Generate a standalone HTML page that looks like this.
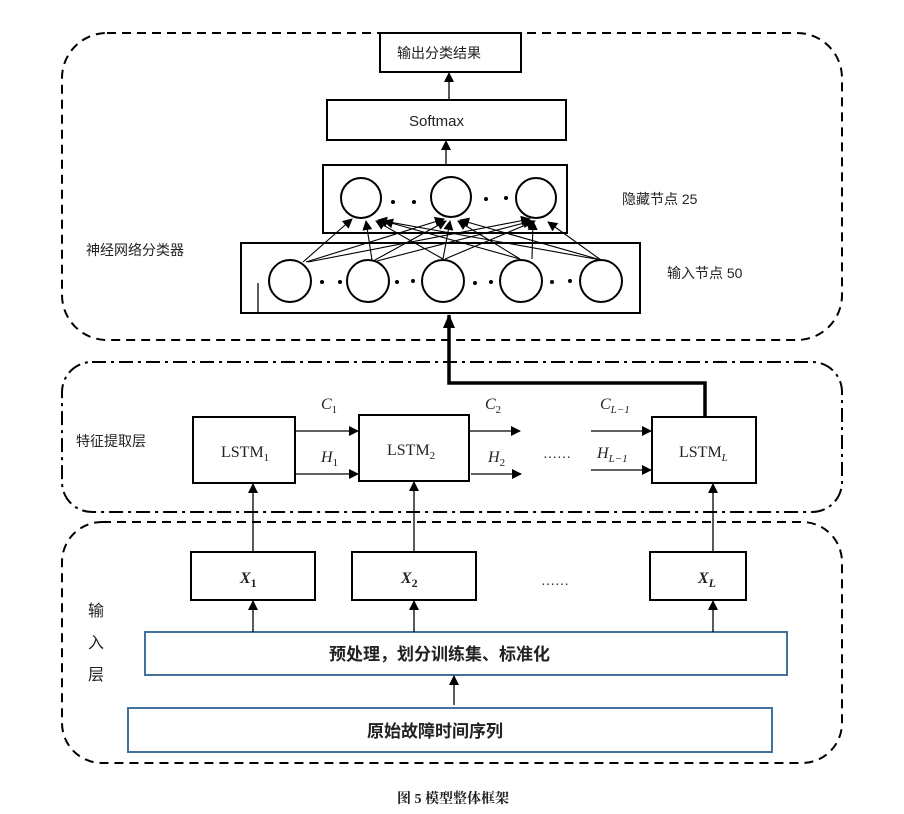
<!DOCTYPE html>
<html><head><meta charset="utf-8"><style>
html,body{margin:0;padding:0;background:#fff;}
svg{display:block;}
text{font-family:"Liberation Sans","Noto Sans CJK SC",sans-serif;fill:#222;}
.s{font-family:"Liberation Serif","Noto Serif CJK SC",serif;}
</style></head><body>
<svg width="904" height="814" viewBox="0 0 904 814" xmlns="http://www.w3.org/2000/svg">
<defs>
<marker id="a" markerWidth="10" markerHeight="10" refX="9" refY="5" orient="auto" markerUnits="userSpaceOnUse"><path d="M0,0 L10,5 L0,10 z" fill="#000"/></marker>
<marker id="b" markerWidth="14" markerHeight="12" refX="13" refY="6" orient="auto" markerUnits="userSpaceOnUse"><path d="M0,0 L14,6 L0,12 z" fill="#000"/></marker>
</defs>
<g fill="none" stroke="#000" stroke-width="2">
<rect x="62" y="33" width="780" height="307" rx="45" stroke-dasharray="9,6"/>
<rect x="62" y="362" width="780" height="150" rx="30" stroke-dasharray="14,5,3,5"/>
<rect x="62" y="522" width="780" height="241" rx="40" stroke-dasharray="9,6"/>
</g>
<g fill="#fff" stroke="#000" stroke-width="2">
<rect x="380" y="33" width="141" height="39"/>
<rect x="327" y="100" width="239" height="40"/>
<rect x="323" y="165" width="244" height="68"/>
<rect x="241" y="243" width="399" height="70"/>
<rect x="193" y="417" width="102" height="66"/>
<rect x="359" y="415" width="110" height="66"/>
<rect x="652" y="417" width="104" height="66"/>
<rect x="191" y="552" width="124" height="48"/>
<rect x="352" y="552" width="124" height="48"/>
<rect x="650" y="552" width="96" height="48"/>
</g>
<rect x="145" y="632" width="642" height="43" fill="#fff" stroke="#41719c" stroke-width="2"/>
<rect x="128" y="708" width="644" height="44" fill="#fff" stroke="#41719c" stroke-width="2"/>
<g stroke="#000" stroke-width="1.3" fill="none">
<line x1="449" y1="100" x2="449" y2="73" marker-end="url(#a)"/>
<line x1="446" y1="165" x2="446" y2="141" marker-end="url(#a)"/>
<line x1="258" y1="313" x2="258" y2="283"/>
</g>
<g stroke="#000" stroke-width="1.1" marker-end="url(#a)">
<line x1="303" y1="262" x2="352" y2="219"/><line x1="306" y1="262" x2="444" y2="219"/><line x1="308" y1="262" x2="530" y2="219"/>
<line x1="372" y1="260" x2="366" y2="221"/><line x1="375" y1="260" x2="446" y2="221"/><line x1="377" y1="261" x2="532" y2="221"/>
<line x1="443" y1="259" x2="376" y2="221"/><line x1="443" y1="259" x2="450" y2="221"/><line x1="445" y1="259" x2="535" y2="221"/>
<line x1="520" y1="259" x2="384" y2="221"/><line x1="520" y1="259" x2="458" y2="221"/><line x1="532" y1="259" x2="533" y2="221"/>
<line x1="601" y1="260" x2="378" y2="220"/><line x1="601" y1="260" x2="460" y2="220"/><line x1="601" y1="260" x2="548" y2="222"/>
</g>
<g fill="#fff" stroke="#000" stroke-width="2">
<circle cx="361" cy="198" r="20"/><circle cx="451" cy="197" r="20"/><circle cx="536" cy="198" r="20"/>
<circle cx="290" cy="281" r="21"/><circle cx="368" cy="281" r="21"/><circle cx="443" cy="281" r="21"/><circle cx="521" cy="281" r="21"/><circle cx="601" cy="281" r="21"/>
</g>
<g fill="#000">
<circle cx="393" cy="202" r="2"/><circle cx="414" cy="202" r="2"/><circle cx="486" cy="199" r="2"/><circle cx="506" cy="198" r="2"/>
<circle cx="322" cy="282" r="2"/><circle cx="340" cy="282" r="2"/><circle cx="397" cy="282" r="2"/><circle cx="413" cy="281" r="2"/>
<circle cx="475" cy="283" r="2"/><circle cx="491" cy="282" r="2"/><circle cx="552" cy="282" r="2"/><circle cx="570" cy="281" r="2"/>
</g>
<polyline points="705,417 705,383 449,383 449,315" fill="none" stroke="#000" stroke-width="3.5" marker-end="url(#b)"/>
<g stroke="#000" stroke-width="1.3" marker-end="url(#a)">
<line x1="295" y1="431" x2="358" y2="431"/><line x1="295" y1="474" x2="358" y2="474"/>
<line x1="470" y1="431" x2="520" y2="431"/><line x1="471" y1="474" x2="521" y2="474"/>
<line x1="591" y1="431" x2="651" y2="431"/><line x1="591" y1="470" x2="651" y2="470"/>
<line x1="253" y1="552" x2="253" y2="484"/><line x1="414" y1="552" x2="414" y2="482"/><line x1="713" y1="552" x2="713" y2="484"/>
<line x1="253" y1="632" x2="253" y2="601"/><line x1="414" y1="632" x2="414" y2="601"/><line x1="713" y1="632" x2="713" y2="601"/>
<line x1="454" y1="705" x2="454" y2="676"/>
</g>
<g font-size="14">
<text x="397" y="58">输出分类结果</text>
<text x="409" y="126" font-size="15">Softmax</text>
<text x="86" y="255">神经网络分类器</text>
<text x="622" y="204">隐藏节点 25</text>
<text x="667" y="278">输入节点 50</text>
<text x="76" y="446">特征提取层</text>
<text x="88" y="616" font-size="16">输</text>
<text x="88" y="648" font-size="16">入</text>
<text x="88" y="680" font-size="16">层</text>
</g>
<g class="s" font-size="16">
<text class="s" x="221" y="457">LSTM<tspan font-size="11" dy="4">1</tspan></text>
<text class="s" x="387" y="455">LSTM<tspan font-size="11" dy="4">2</tspan></text>
<text class="s" x="679" y="457">LSTM<tspan font-size="11" dy="4" font-style="italic">L</tspan></text>
<text class="s" x="321" y="409" font-style="italic">C<tspan font-size="11" dy="4" font-style="normal">1</tspan></text>
<text class="s" x="321" y="462" font-style="italic">H<tspan font-size="11" dy="4" font-style="normal">1</tspan></text>
<text class="s" x="485" y="409" font-style="italic">C<tspan font-size="11" dy="4" font-style="normal">2</tspan></text>
<text class="s" x="488" y="462" font-style="italic">H<tspan font-size="11" dy="4" font-style="normal">2</tspan></text>
<text class="s" x="600" y="409" font-style="italic">C<tspan font-size="11" dy="4">L−1</tspan></text>
<text class="s" x="597" y="458" font-style="italic">H<tspan font-size="11" dy="4">L−1</tspan></text>
<text class="s" x="543" y="458" font-size="14">……</text>
<text class="s" x="541" y="585" font-size="14">……</text>
<text class="s" x="240" y="583" font-style="italic" font-weight="bold">X<tspan font-size="12" dy="4" font-style="normal">1</tspan></text>
<text class="s" x="401" y="583" font-style="italic" font-weight="bold">X<tspan font-size="12" dy="4" font-style="normal">2</tspan></text>
<text class="s" x="698" y="583" font-style="italic" font-weight="bold">X<tspan font-size="12" dy="4">L</tspan></text>
</g>
<text x="329" y="660" font-size="17" font-weight="bold">预处理，划分训练集、标准化</text>
<text x="367" y="737" font-size="17" font-weight="bold">原始故障时间序列</text>
<text class="s" x="397" y="803" font-size="14" font-weight="bold">图 5  模型整体框架</text>
</svg>
</body></html>
